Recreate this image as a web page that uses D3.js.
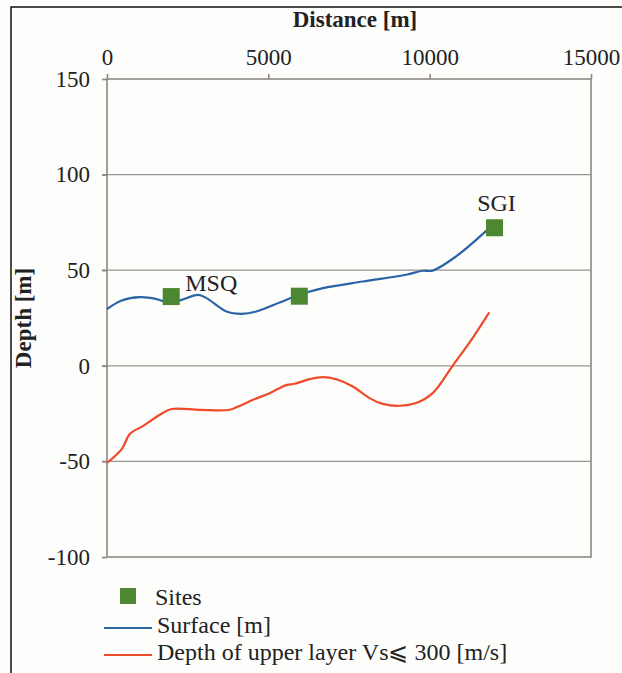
<!DOCTYPE html>
<html>
<head>
    <meta charset="UTF-8">
    <title>Depth profile</title>
    <script src="https://d3js.org/d3.v7.min.js"></script>
    <style>
        body {
            background-color: #fdfdfc;
            margin: 0;
            padding: 0;
        }
        svg text {
            font-family: 'Liberation Serif', 'Times New Roman', serif;
            fill: #222;
        }
    </style>
</head>
<body>
    <svg width="622" height="673"></svg>

    <script>
        // distance [m] along the profile and heights [m]
        const surfaceX = [0, 455, 1021, 1537, 1896, 2258, 2824, 3084, 3702, 4166, 4630, 5351, 5868, 6690, 7928, 9270, 9783, 10093, 10817, 11847];
        const surfaceY = [29.7, 34.2, 35.9, 34.9, 33.1, 34.2, 37.1, 35.4, 28.4, 27.2, 28.4, 33.1, 36.6, 40.6, 44.1, 47.6, 49.7, 49.8, 57.2, 72];

        const layerX = [0, 455, 711, 1123, 1639, 2001, 2877, 3805, 4061, 4525, 5042, 5558, 5815, 6279, 6690, 7105, 7618, 8135, 8546, 9063, 9579, 10093, 10711, 11330, 11847];
        const layerY = [-50.8, -43.6, -35.6, -31.4, -25.6, -22.6, -23, -23, -21.3, -17.8, -14.3, -10.1, -9.4, -7.0, -5.9, -7.0, -10.8, -16.9, -19.9, -20.9, -19.5, -14.3, 0, 14.5, 27.9];

        const siteX = [1990, 5960, 12010];
        const siteY = [36.2, 36.4, 72.2];
        const siteNames = ["MSQ", "", "SGI"];

        const xTicks = [0, 5000, 10000, 15000];
        const yTicks = [-100, -50, 0, 50, 100, 150];

        const svg = d3.select("svg");

        // outer frame (only left and top edges inside the window)
        svg.append("rect")
            .attr("x", 11).attr("y", 7)
            .attr("width", 700).attr("height", 700)
            .attr("fill", "none")
            .attr("stroke", "#111")
            .attr("stroke-width", 1.5);

        const x = d3.scaleLinear().domain([0, 15000]).range([107, 591]);
        const y = d3.scaleLinear().domain([-100, 150]).range([557, 79]);

        // gridlines
        svg.append("g")
            .selectAll("line")
            .data(yTicks.filter(d => d > -100 && d < 150))
            .enter()
            .append("line")
            .attr("x1", x(0) - 5).attr("x2", x(15000))
            .attr("y1", d => y(d)).attr("y2", d => y(d))
            .attr("stroke", "#9b9492")
            .attr("stroke-width", 1.2);

        // plot box
        svg.append("rect")
            .attr("x", x(0)).attr("y", y(150))
            .attr("width", x(15000) - x(0)).attr("height", y(-100) - y(150))
            .attr("fill", "none")
            .attr("stroke", "#8e8684")
            .attr("stroke-width", 1.6);

        // axes
        const xAxis = svg.append("g")
            .attr("transform", "translate(0," + y(150) + ")")
            .call(d3.axisTop(x).tickValues(xTicks).tickFormat(d => String(d)).tickSize(5).tickPadding(9));
        const yAxis = svg.append("g")
            .attr("transform", "translate(" + x(0) + ",0)")
            .call(d3.axisLeft(y).tickValues(yTicks).tickFormat(d => String(d)).tickSize(5).tickPadding(12));

        [xAxis, yAxis].forEach(function (g) {
            g.select(".domain").remove();
            g.selectAll("line").attr("stroke", "#8e8684").attr("stroke-width", 1.6);
            g.selectAll("text")
                .attr("font-family", "'Liberation Serif', serif")
                .attr("font-size", 23)
                .attr("fill", "#222");
        });

        // axis titles
        svg.append("text")
            .attr("x", 355).attr("y", 27)
            .attr("text-anchor", "middle")
            .attr("font-size", 23)
            .attr("font-weight", "bold")
            .text("Distance [m]");

        svg.append("text")
            .attr("transform", "translate(31,318) rotate(-90)")
            .attr("text-anchor", "middle")
            .attr("font-size", 23)
            .attr("font-weight", "bold")
            .text("Depth [m]");

        // lines
        const line = d3.line()
            .x(d => x(d[0]))
            .y(d => y(d[1]))
            .curve(d3.curveCatmullRom);

        svg.append("path")
            .datum(d3.zip(layerX, layerY))
            .attr("d", line)
            .attr("fill", "none")
            .attr("stroke", "#ef4b2a")
            .attr("stroke-width", 2.2);

        svg.append("path")
            .datum(d3.zip(surfaceX, surfaceY))
            .attr("d", line)
            .attr("fill", "none")
            .attr("stroke", "#2a63a6")
            .attr("stroke-width", 2.2);

        // sites
        const sites = d3.zip(siteX, siteY, siteNames);
        svg.append("g")
            .selectAll("rect")
            .data(sites)
            .enter()
            .append("rect")
            .attr("x", d => x(d[0]) - 8.5)
            .attr("y", d => y(d[1]) - 8.5)
            .attr("width", 17).attr("height", 17)
            .attr("fill", "#4e8731");

        svg.append("text")
            .attr("x", x(siteX[0]) + 14).attr("y", y(siteY[0]) - 6)
            .attr("font-size", 24)
            .text(siteNames[0]);
        svg.append("text")
            .attr("x", x(siteX[2]) + 2).attr("y", y(siteY[2]) - 17)
            .attr("text-anchor", "middle")
            .attr("font-size", 24)
            .text(siteNames[2]);

        // legend
        const legend = svg.append("g");
        legend.append("rect")
            .attr("x", 120).attr("y", 588)
            .attr("width", 16).attr("height", 16)
            .attr("fill", "#4e8731");
        legend.append("text")
            .attr("x", 155).attr("y", 605)
            .attr("font-size", 24)
            .text("Sites");

        legend.append("line")
            .attr("x1", 104).attr("x2", 152)
            .attr("y1", 628).attr("y2", 628)
            .attr("stroke", "#2a63a6").attr("stroke-width", 2);
        legend.append("text")
            .attr("x", 157).attr("y", 633)
            .attr("font-size", 24)
            .text("Surface [m]");

        legend.append("line")
            .attr("x1", 104).attr("x2", 152)
            .attr("y1", 655).attr("y2", 655)
            .attr("stroke", "#ef4b2a").attr("stroke-width", 2);
        legend.append("text")
            .attr("x", 157).attr("y", 660)
            .attr("font-size", 24)
            .text("Depth of upper layer Vs\u2A7D 300 [m/s]");
    </script>
</body>
</html>
